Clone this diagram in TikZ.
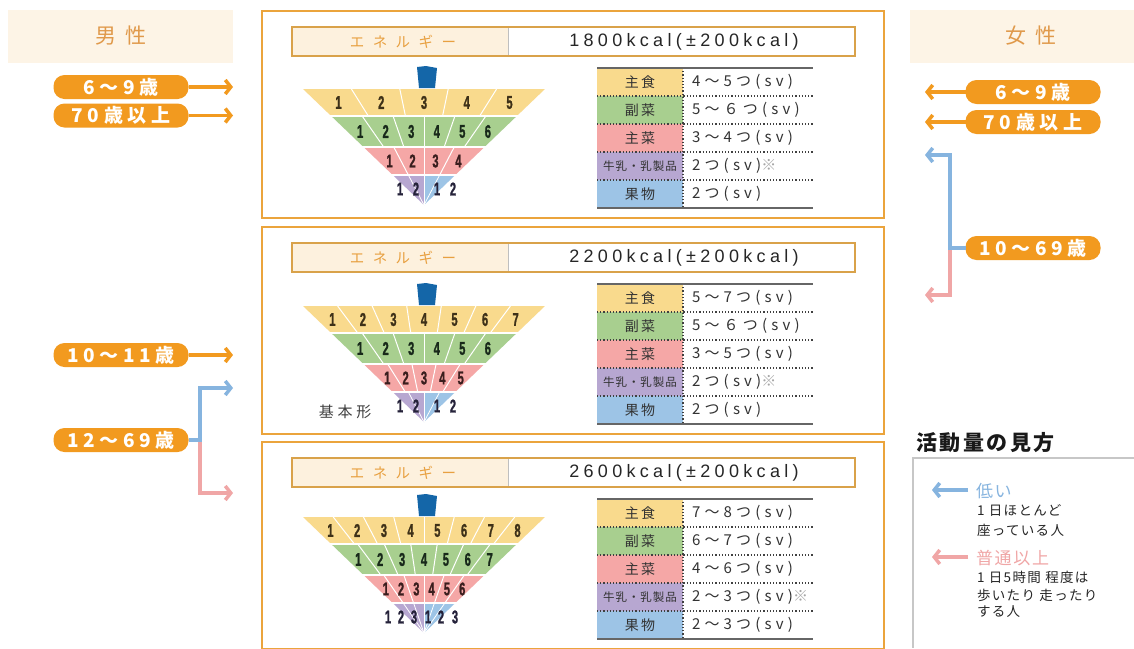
\documentclass[tikz,border=0pt]{standalone}
\usepackage{fontspec}
\setmainfont{Noto Sans CJK JP}
\newfontfamily\jp{Noto Sans CJK JP}
\newfontfamily\numf[FakeStretch=0.6,FakeBold=1.2]{Liberation Sans Bold}
\newfontfamily\enf{Liberation Sans}
\usetikzlibrary{arrows.meta}
\definecolor{org}{HTML}{F29A1F}
\definecolor{orgline}{HTML}{EBA43C}
\definecolor{barline}{HTML}{D9A24A}
\definecolor{beige}{HTML}{FDF1DE}
\definecolor{hbeige}{HTML}{FDF4E6}
\definecolor{hdrtext}{HTML}{E0994A}
\definecolor{etext}{HTML}{E8A040}
\definecolor{cY}{HTML}{F9DA8D}
\definecolor{cG}{HTML}{A8CF8F}
\definecolor{cP}{HTML}{F5A7A6}
\definecolor{cV}{HTML}{B7A7D1}
\definecolor{cB}{HTML}{9DC4E6}
\definecolor{cup}{HTML}{1466A8}
\definecolor{lblue}{HTML}{86B4DF}
\definecolor{lpink}{HTML}{F0A6A6}
\definecolor{nY}{HTML}{3E3118}
\definecolor{nG}{HTML}{18291A}
\definecolor{nP}{HTML}{3A1E1E}
\definecolor{nV}{HTML}{25223A}
\tikzset{
 every node/.style={inner sep=0pt, outer sep=0pt},
 pill/.style={fill=org, rounded corners=11pt, minimum width=135pt, minimum height=24pt, text=white,
   font=\jp\bfseries\addfontfeatures{LetterSpace=24}\fontsize{19}{19}\selectfont},
 oarr/.style={draw=org, line width=3.5pt, -{Straight Barb[length=5.5pt,width=14pt]}},
 barr/.style={draw=lblue, line width=3.5pt, -{Straight Barb[length=5.5pt,width=14pt]}},
 parr/.style={draw=lpink, line width=3.5pt, -{Straight Barb[length=5.5pt,width=14pt]}},
 hdr/.style={text=hdrtext, font=\jp\addfontfeatures{LetterSpace=40}\fontsize{21}{21}\selectfont},
 etxt/.style={text=etext, font=\jp\addfontfeatures{LetterSpace=58}\fontsize{14.5}{14.5}\selectfont},
 ktxt/.style={text=black!85, font=\enf\addfontfeatures{LetterSpace=24}\fontsize{18}{18}\selectfont},
 cat/.style={text=black!80, font=\jp\addfontfeatures{LetterSpace=15}\fontsize{14}{14}\selectfont},
 catsm/.style={text=black!80, font=\jp\addfontfeatures{LetterSpace=8}\fontsize{11.5}{12}\selectfont},
 val/.style={anchor=west, text=black!80, font=\jp\addfontfeatures{LetterSpace=28}\fontsize{15}{15}\selectfont},
 num/.style={font=\numf\fontsize{18.5}{18.5}\selectfont},
 lg/.style={anchor=west, text=black!85, font=\jp\addfontfeatures{LetterSpace=10}\fontsize{13.5}{14}\selectfont},
 lgh/.style={anchor=west, font=\jp\addfontfeatures{LetterSpace=10}\fontsize{17}{17}\selectfont},
 dotl/.style={black!75, dotted, line width=1.2pt},
}
% pyramid layer: id, dy, ya, yb, k, colour, number colour
\newcommand\pyrlayer[7]{%
 \pgfmathsetmacro\hwa{(205-#3)*1.043}%
 \pgfmathsetmacro\hwb{(205-#4)*1.043}%
 \pgfmathsetmacro\hwm{(205-(#3+#4)/2)*1.043}%
 \fill[#6] (424-\hwa,#3+#2) -- (424+\hwa,#3+#2) -- (424+\hwb,#4+#2) -- (424-\hwb,#4+#2) -- cycle;
 \pgfmathtruncatemacro\km{#5-1}%
 \foreach \j in {1,...,\km}{\draw[white, line width=1pt] (424-\hwa+\j*2*\hwa/#5, #3+#2) -- (424-\hwb+\j*2*\hwb/#5, #4+#2);}
 \foreach \j in {1,...,#5}{\node[num, text=#7] (#1-\j) at (424-\hwm+\j*2*\hwm/#5-\hwm/#5, {(#3+#4)/2+#2}) {\j};}
}
% bottom layer: id, dy, k, list x/label
\newcommand\pyrbottom[4]{%
 \pgfmathsetmacro\hwa{(205-175)*1.043}%
 \fill[cV] (424-\hwa,175+#2) -- (424,175+#2) -- (424,205+#2) -- cycle;
 \fill[cB] (424,175+#2) -- (424+\hwa,175+#2) -- (424,205+#2) -- cycle;
 \pgfmathtruncatemacro\km{#3-1}%
 \foreach \j in {1,...,\km}{\draw[white, line width=0.8pt] (424-\hwa+\j*2*\hwa/#3, 175+#2) -- (424,205+#2);}
 \foreach \x/\t [count=\j] in {#4}{\node[num, text=nV] (#1-b\j) at (\x,189+#2) {\t};}
}
\newcommand\pyramid[1]{%
 \fill[cup] (417,67+#1) -- (426,66+#1) -- (437,68+#1) -- (435,88+#1) -- (419,88+#1) -- cycle;
}
% table row: id, dy, row, colour, label style, label, value
\newcommand\trow[7]{%
 \fill[#4] (597,68+28*#3+#2) rectangle (683,96+28*#3+#2);
 \node[#5] (#1-c#3) at (640,82+28*#3+#2) {#6};
 \node[val] (#1-v#3) at (692,82+28*#3+#2) {#7};
}
% panel: id, dy, kcal, v1..v5
\newcommand\panel[8]{%
 \draw[orgline, line width=2.5pt, fill=white] (262,11+#2) rectangle (884,218+#2);
 \fill[beige] (292,27+#2) rectangle (508,56+#2);
 \draw[black!25, line width=0.8pt] (508,27+#2) -- (508,56+#2);
 \draw[barline, line width=2.5pt] (292,27+#2) rectangle (855,56+#2);
 \node[etxt] (#1-e) at (403,41.5+#2) {エネルギー};
 \node[ktxt] (#1-k) at (684,41.5+#2) {#3};
 \trow{#1}{#2}{0}{cY}{cat}{主食}{#4}
 \trow{#1}{#2}{1}{cG}{cat}{副菜}{#5}
 \trow{#1}{#2}{2}{cP}{cat}{主菜}{#6}
 \trow{#1}{#2}{3}{cV}{catsm}{牛乳・乳製品}{#7}
 \trow{#1}{#2}{4}{cB}{cat}{果物}{#8}
 \foreach \r in {1,...,4}{\draw[dotl] (597,68+28*\r+#2) -- (813,68+28*\r+#2);}
 \draw[dotl] (683,68+#2) -- (683,208+#2);
 \draw[black!60, line width=1.5pt] (597,68+#2) -- (813,68+#2);
 \draw[black!60, line width=1.5pt] (597,208+#2) -- (813,208+#2);
}
\begin{document}
\begin{tikzpicture}[x=1pt,y=-1pt]
\useasboundingbox (0,0) rectangle (1134,648);
\fill[white] (0,0) rectangle (1134,648);
% headers
\fill[hbeige] (8,10) rectangle (233,63);
\node[hdr] (hm) at (121,36) {男性};
\fill[hbeige] (910,10) rectangle (1134,63);
\node[hdr] (hf) at (1031,36) {女性};
% panels
\panel{pa}{0}{1800kcal(±200kcal)}{4～5つ(sv)}{5～６つ(sv)}{3～4つ(sv)}{2つ(sv){\color{black!35}※}}{2つ(sv)}
\panel{pb}{216}{2200kcal(±200kcal)}{5～7つ(sv)}{5～６つ(sv)}{3～5つ(sv)}{2つ(sv){\color{black!35}※}}{2つ(sv)}
\panel{pc}{431}{2600kcal(±200kcal)}{7～8つ(sv)}{6～7つ(sv)}{4～6つ(sv)}{2～3つ(sv){\color{black!35}※}}{2～3つ(sv)}
% pyramids
\pyramid{0}
\pyrlayer{ya}{0}{89}{116}{5}{cY}{nY}
\pyrlayer{ga}{0}{116}{147}{6}{cG}{nG}
\pyrlayer{ra}{0}{147}{175}{4}{cP}{nP}
\pyrbottom{ba}{0}{4}{400/1,416/2,437/1,453/2}
\foreach \yy in {116,147,175}{\draw[white, line width=1.5pt] (300,\yy) -- (550,\yy);}
\pyramid{217}
\pyrlayer{yb}{217}{89}{116}{7}{cY}{nY}
\pyrlayer{gb}{217}{116}{147}{6}{cG}{nG}
\pyrlayer{rb}{217}{147}{175}{5}{cP}{nP}
\pyrbottom{bb}{217}{4}{400/1,416/2,437/1,453/2}
\foreach \yy in {116,147,175}{\draw[white, line width=1.5pt] (300,\yy+217) -- (550,\yy+217);}
\node[text=black!75, font=\jp\addfontfeatures{LetterSpace=25}\fontsize{15}{15}\selectfont] (kihon) at (345,412) {基本形};
\pyramid{428}
\pyrlayer{yc}{428}{89}{116}{8}{cY}{nY}
\pyrlayer{gc}{428}{116}{147}{7}{cG}{nG}
\pyrlayer{rc}{428}{147}{175}{6}{cP}{nP}
\pyrbottom{bc}{428}{6}{388/1,401/2,414/3,428/1,441/2,455/3}
\foreach \yy in {116,147,175}{\draw[white, line width=1.5pt] (300,\yy+428) -- (550,\yy+428);}
% left (male) labels
\node[pill] (m69) at (121,87) {6～9歳};
\node[pill] (m70) at (121,115.5) {70歳以上};
\node[pill] (m1011) at (121,355) {10～11歳};
\node[pill] (m1269) at (121,440) {12～69歳};
\coordinate (ma) at (233,87);
\coordinate (mb) at (233,115.5);
\coordinate (mc) at (233,355);
\coordinate (jm) at (200,440);
\coordinate (mB) at (233,388);
\coordinate (mP) at (233,493);
\draw[oarr] (m69.east) -- (ma);
\draw[oarr] (m70.east) -- (mb);
\draw[oarr] (m1011.east) -- (mc);
\draw[parr] (jm) |- (mP);
\draw[barr] (m1269.east) -- (jm) |- (mB);
% right (female) labels
\node[pill] (f69) at (1033,92) {6～9歳};
\node[pill] (f70) at (1033,122) {70歳以上};
\node[pill] (f1069) at (1033,248) {10～69歳};
\coordinate (fa) at (925,92);
\coordinate (fb) at (925,122);
\coordinate (jf) at (950,248);
\coordinate (fB) at (925,155);
\coordinate (fP) at (925,295);
\draw[oarr] (f69.west) -- (fa);
\draw[oarr] (f70.west) -- (fb);
\draw[parr] (jf) |- (fP);
\draw[barr] (f1069.west) -- (jf) |- (fB);
% legend
\node[anchor=west, text=black!90, font=\jp\bfseries\addfontfeatures{LetterSpace=12}\fontsize{21}{21}\selectfont] (lgt) at (916,443) {活動量の見方};
\fill[white] (913,458) rectangle (1134,648);
\draw[black!22, line width=2pt] (1134,458) -- (913,458) -- (913,648);
\coordinate (lb0) at (932,490);
\coordinate (lb1) at (968,490);
\draw[barr] (lb1) -- (lb0);
\node[lgh, text=lblue] (low) at (976,491) {低い};
\node[lg] (l1) at (977,510) {1 日ほとんど};
\node[lg] (l2) at (977,530) {座っている人};
\coordinate (lp0) at (932,557);
\coordinate (lp1) at (968,557);
\draw[parr] (lp1) -- (lp0);
\node[lgh, text=lpink] (norm) at (976,558) {普通以上};
\node[lg] (l3) at (977,577) {1 日5時間 程度は};
\node[lg] (l4) at (977,595) {歩いたり 走ったり};
\node[lg] (l5) at (977,612) {する人};
\end{tikzpicture}
\end{document}
